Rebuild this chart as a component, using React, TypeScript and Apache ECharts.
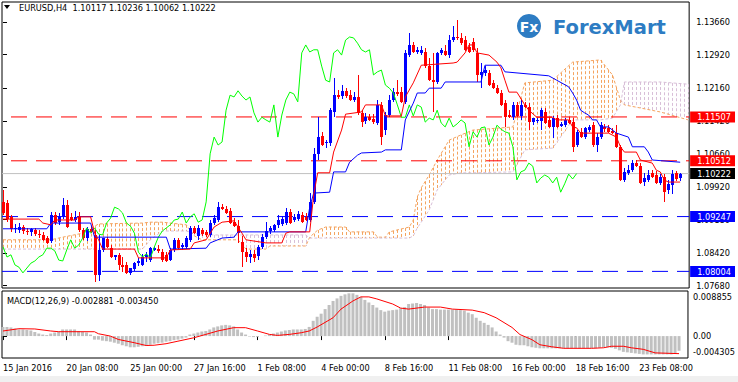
import React, { useEffect, useRef } from "react";
import * as echarts from "echarts";

// ---------- data (EURUSD H4, bar index 0 = 15 Jan 2016 16:00) ----------
const OPEN = [
  1.0958,1.0955,1.0924,1.0896,1.0894,1.0901,1.0892,1.0890,1.0894,1.0885,
  1.0883,1.0876,1.0869,1.0928,1.0912,1.0924,1.0951,1.0924,1.0917,1.0924,
  1.0894,1.0876,1.0896,1.0883,1.0792,1.0849,1.0874,1.0853,1.0833,1.0838,
  1.0815,1.0815,1.0797,1.0806,1.0819,1.0815,1.0833,1.0826,1.0849,1.0851,
  1.0844,1.0838,1.0826,1.0849,1.0872,1.0856,1.0856,1.0872,1.0899,1.0881,
  1.0894,1.0890,1.0883,1.0910,1.0917,1.0946,1.0942,1.0937,1.0912,1.0903,
  1.0867,1.0844,1.0833,1.0840,1.0835,1.0856,1.0878,1.0892,1.0894,1.0906,
  1.0908,1.0910,1.0935,1.0917,1.0919,1.0928,1.0924,1.0917,1.0958,1.1067,
  1.1107,1.1092,1.1092,1.1162,1.1200,1.1198,1.1210,1.1200,1.1189,1.1196,
  1.1160,1.1141,1.1150,1.1146,1.1137,1.1178,1.1121,1.1155,1.1189,1.1207,
  1.1207,1.1185,1.1291,1.1314,1.1298,1.1296,1.1298,1.1266,1.1234,1.1230,
  1.1296,1.1300,1.1291,1.1325,1.1332,1.1330,1.1325,1.1309,1.1321,1.1296,
  1.1246,1.1250,1.1250,1.1228,1.1216,1.1205,1.1182,1.1155,1.1150,1.1178,
  1.1153,1.1178,1.1173,1.1139,1.1141,1.1141,1.1162,1.1144,1.1128,1.1148,
  1.1130,1.1132,1.1144,1.1139,1.1087,1.1117,1.1105,1.1121,1.1132,1.1087,
  1.1105,1.1128,1.1126,1.1119,1.1114,1.1083,1.1008,1.1023,1.1030,1.1046,
  1.1039,1.1003,1.1008,1.1023,1.1019,1.1001,1.1014,1.0985,1.0996,1.1023,
  1.10117,
];
const HIGH = [
  1.0985,1.0962,1.0928,1.0908,1.0910,1.0906,1.0899,1.0899,1.0899,1.0894,
  1.0890,1.0881,1.0935,1.0935,1.0933,1.0967,1.0962,1.0933,1.0937,1.0935,
  1.0899,1.0901,1.0903,1.0894,1.0883,1.0876,1.0878,1.0860,1.0838,1.0842,
  1.0833,1.0822,1.0808,1.0822,1.0831,1.0840,1.0844,1.0856,1.0858,1.0860,
  1.0851,1.0844,1.0853,1.0876,1.0876,1.0865,1.0881,1.0903,1.0903,1.0906,
  1.0899,1.0894,1.0917,1.0928,1.0958,1.0953,1.0949,1.0944,1.0921,1.0917,
  1.0881,1.0853,1.0849,1.0849,1.0860,1.0885,1.0912,1.0903,1.0908,1.0928,
  1.0926,1.0944,1.0942,1.0931,1.0937,1.0935,1.0933,1.0978,1.1080,1.1150,
  1.1117,1.1098,1.1171,1.1239,1.1212,1.1223,1.1216,1.1212,1.1207,1.1246,
  1.1166,1.1160,1.1157,1.1157,1.1189,1.1185,1.1162,1.1200,1.1216,1.1234,
  1.1219,1.1303,1.1341,1.1321,1.1309,1.1312,1.1307,1.1284,1.1296,1.1298,
  1.1307,1.1314,1.1337,1.1357,1.1370,1.1341,1.1334,1.1318,1.1330,1.1307,
  1.1273,1.1266,1.1257,1.1234,1.1223,1.1212,1.1189,1.1166,1.1185,1.1185,
  1.1189,1.1185,1.1182,1.1148,1.1148,1.1171,1.1171,1.1150,1.1153,1.1155,
  1.1139,1.1148,1.1150,1.1148,1.1121,1.1126,1.1128,1.1132,1.1139,1.1114,
  1.1139,1.1135,1.1132,1.1126,1.1132,1.1087,1.1035,1.1042,1.1053,1.1053,
  1.1046,1.1023,1.1030,1.1030,1.1028,1.1021,1.1021,1.1008,1.1030,1.1028,
  1.10236,
];
const LOW = [
  1.0928,1.0912,1.0890,1.0887,1.0887,1.0885,1.0883,1.0881,1.0881,1.0876,
  1.0869,1.0863,1.0865,1.0906,1.0906,1.0919,1.0899,1.0915,1.0912,1.0890,
  1.0872,1.0869,1.0887,1.0776,1.0779,1.0844,1.0853,1.0831,1.0826,1.0804,
  1.0799,1.0794,1.0792,1.0801,1.0813,1.0813,1.0822,1.0822,1.0847,1.0842,
  1.0822,1.0822,1.0824,1.0844,1.0849,1.0849,1.0851,1.0867,1.0885,1.0872,
  1.0881,1.0878,1.0878,1.0906,1.0912,1.0940,1.0931,1.0908,1.0901,1.0865,
  1.0810,1.0822,1.0819,1.0822,1.0826,1.0851,1.0874,1.0885,1.0890,1.0899,
  1.0903,1.0906,1.0908,1.0912,1.0915,1.0910,1.0915,1.0912,1.0953,1.1053,
  1.1085,1.1080,1.1085,1.1150,1.1191,1.1191,1.1194,1.1187,1.1185,1.1155,
  1.1128,1.1135,1.1141,1.1135,1.1132,1.1087,1.1110,1.1150,1.1185,1.1198,
  1.1182,1.1180,1.1287,1.1296,1.1293,1.1291,1.1262,1.1232,1.1162,1.1225,
  1.1291,1.1289,1.1284,1.1321,1.1325,1.1314,1.1300,1.1296,1.1298,1.1230,
  1.1216,1.1244,1.1221,1.1214,1.1203,1.1175,1.1128,1.1148,1.1144,1.1150,
  1.1144,1.1171,1.1121,1.1132,1.1137,1.1121,1.1135,1.1126,1.1103,1.1126,
  1.1128,1.1128,1.1135,1.1071,1.1083,1.1103,1.1101,1.1117,1.1083,1.1071,
  1.1101,1.1117,1.1114,1.1112,1.1080,1.1005,1.1003,1.1019,1.1026,1.1037,
  1.0999,1.0994,1.1003,1.1012,1.0999,1.0996,1.0958,1.0976,1.0976,1.1005,
  1.10062,
];
const CLOSE = [
  1.0933,1.0919,1.0896,1.0899,1.0901,1.0892,1.0890,1.0896,1.0885,1.0883,
  1.0872,1.0865,1.0928,1.0910,1.0924,1.0951,1.0901,1.0917,1.0924,1.0894,
  1.0876,1.0896,1.0890,1.0792,1.0849,1.0876,1.0856,1.0833,1.0838,1.0815,
  1.0810,1.0797,1.0808,1.0819,1.0824,1.0833,1.0838,1.0853,1.0853,1.0847,
  1.0826,1.0824,1.0849,1.0872,1.0853,1.0860,1.0876,1.0899,1.0887,1.0899,
  1.0885,1.0883,1.0910,1.0921,1.0946,1.0942,1.0933,1.0910,1.0903,1.0887,
  1.0844,1.0833,1.0840,1.0831,1.0856,1.0878,1.0892,1.0899,1.0906,1.0917,
  1.0919,1.0935,1.0910,1.0924,1.0931,1.0912,1.0917,1.0958,1.1067,1.1105,
  1.1087,1.1094,1.1166,1.1200,1.1196,1.1210,1.1198,1.1189,1.1196,1.1160,
  1.1139,1.1150,1.1144,1.1139,1.1178,1.1105,1.1155,1.1189,1.1207,1.1203,
  1.1185,1.1296,1.1314,1.1298,1.1303,1.1303,1.1266,1.1234,1.1230,1.1296,
  1.1303,1.1291,1.1325,1.1332,1.1330,1.1318,1.1303,1.1298,1.1303,1.1246,
  1.1253,1.1257,1.1223,1.1216,1.1205,1.1178,1.1150,1.1150,1.1178,1.1153,
  1.1178,1.1173,1.1139,1.1148,1.1144,1.1166,1.1137,1.1128,1.1148,1.1128,
  1.1135,1.1144,1.1137,1.1083,1.1117,1.1105,1.1126,1.1128,1.1087,1.1105,
  1.1132,1.1123,1.1117,1.1114,1.1083,1.1008,1.1026,1.1030,1.1046,1.1039,
  1.1001,1.1012,1.1019,1.1014,1.1001,1.1014,1.0980,1.0999,1.1021,1.1010,
  1.10222,
];

// Ichimoku lines: [bar, price]
const TENKAN = [
  [0,1.0919],[9,1.0919],[10,1.0910],[12,1.0906],[13,1.0917],[18,1.0917],[19,1.0924],[22,1.0924],
  [23,1.0887],[24,1.0872],[25,1.0851],[33,1.0851],[34,1.0831],[41,1.0831],[42,1.0849],[47,1.0851],
  [48,1.0865],[51,1.0872],[53,1.0901],[55,1.0912],[58,1.0915],[59,1.0901],[60,1.0887],[61,1.0872],
  [66,1.0865],[70,1.0865],[71,1.0887],[72,1.0890],[77,1.0890],[78,1.0974],[79,1.1024],[82,1.1024],
  [83,1.1071],[85,1.1121],[86,1.1157],[90,1.1162],[91,1.1178],[95,1.1178],[96,1.1153],[100,1.1153],
  [101,1.1196],[103,1.1228],[105,1.1268],[113,1.1273],[114,1.1275],[116,1.1296],[117,1.1314],[118,1.1314],
  [119,1.1296],[122,1.1291],[124,1.1275],[125,1.1262],[126,1.1234],[127,1.1207],[129,1.1207],[131,1.1178],
  [132,1.1166],[134,1.1150],[138,1.1150],[139,1.1144],[142,1.1144],[143,1.1128],[144,1.1126],[145,1.1114],
  [152,1.1114],[154,1.1105],[155,1.1083],[156,1.1071],[159,1.1071],[160,1.1053],[163,1.1046],[164,1.1030],
  [165,1.1026],[166,1.1008],[167,1.1003],[170,1.1003],
];
const KIJUN = [
  [0,1.0897],[11,1.0897],[12,1.0910],[22,1.0910],[23,1.0878],[41,1.0878],[42,1.0851],[51,1.0853],
  [52,1.0865],[55,1.0876],[58,1.0878],[59,1.0890],[76,1.0890],[77,1.0946],[78,1.0978],[82,1.0980],
  [83,1.1026],[86,1.1026],[87,1.1048],[89,1.1064],[90,1.1069],[95,1.1071],[96,1.1076],[100,1.1076],
  [101,1.1144],[103,1.1182],[104,1.1205],[106,1.1205],[107,1.1216],[110,1.1216],[111,1.1230],[120,1.1230],
  [121,1.1268],[125,1.1268],[126,1.1253],[137,1.1244],[139,1.1234],[142,1.1219],[143,1.1205],[144,1.1189],
  [145,1.1166],[146,1.1160],[147,1.1155],[148,1.1144],[149,1.1144],[150,1.1128],[152,1.1128],[154,1.1114],
  [157,1.1105],[158,1.1083],[161,1.1083],[162,1.1071],[163,1.1053],[170,1.1048],
];
// cloud: [bar, senkou span A, senkou span B]
const CLOUD = [
  [0,1.0872,1.0851],[12,1.0872,1.0851],[15,1.0878,1.0851],[20,1.0887,1.0851],[24,1.0908,1.0851],
  [35,1.0910,1.0851],[37,1.0912,1.0872],[40,1.0912,1.0892],[46,1.0906,1.0892],[48,1.0881,1.0887],
  [50,1.0872,1.0883],[59,1.0872,1.0883],[61,1.0851,1.0883],[66,1.0851,1.0883],[67,1.0858,1.0883],
  [76,1.0858,1.0883],[77,1.0878,1.0876],[79,1.0894,1.0876],[81,1.0901,1.0876],[86,1.0901,1.0876],
  [87,1.0890,1.0876],[93,1.0890,1.0876],[94,1.0878,1.0876],[96,1.0878,1.0876],[97,1.0890,1.0876],
  [102,1.0901,1.0876],[103,1.0917,1.0881],[104,1.0969,1.0899],[105,1.0990,1.0912],[107,1.1019,1.0940],
  [109,1.1053,1.0985],[112,1.1098,1.1019],[115,1.1110,1.1024],[118,1.1121,1.1024],[128,1.1128,1.1026],
  [131,1.1228,1.1076],[138,1.1234,1.1080],[143,1.1275,1.1144],[150,1.1280,1.1144],[153,1.1246,1.1148],
  [155,1.1189,1.1178],[156,1.1178,1.1230],[160,1.1171,1.1230],[165,1.1162,1.1230],[172,1.1144,1.1225],
];
const CHIKOU_SHIFT = 26;

const MACD_MAIN = [
  0.0018,0.0018,0.0017,0.0015,0.0013,0.0013,0.0012,0.0011,0.0008,0.0005,
  0.0003,0.0002,0.0005,0.0007,0.0009,0.0013,0.0013,0.0013,0.0013,0.0010,
  0.0008,0.0007,0.0003,-0.0007,-0.0007,-0.0009,-0.0010,-0.0011,-0.0013,-0.0015,
  -0.0018,-0.0020,-0.0022,-0.0022,-0.0021,-0.0020,-0.0019,-0.0017,-0.0015,-0.0014,
  -0.0013,-0.0011,-0.0010,-0.0008,-0.0007,-0.0005,-0.0003,0.0003,0.0005,0.0007,
  0.0009,0.0010,0.0013,0.0017,0.0019,0.0021,0.0022,0.0021,0.0019,0.0013,
  0.0007,0.0003,-0.0001,-0.0002,-0.0002,0.0000,0.0001,0.0003,0.0005,0.0007,
  0.0009,0.0011,0.0012,0.0013,0.0013,0.0013,0.0014,0.0018,0.0030,0.0038,
  0.0044,0.0053,0.0061,0.0069,0.0074,0.0079,0.0082,0.0084,0.0084,0.0081,
  0.0077,0.0071,0.0066,0.0061,0.0056,0.0051,0.0048,0.0050,0.0051,0.0052,
  0.0055,0.0057,0.0063,0.0064,0.0065,0.0063,0.0061,0.0056,0.0053,0.0053,
  0.0052,0.0052,0.0052,0.0052,0.0052,0.0051,0.0050,0.0046,0.0043,0.0036,
  0.0030,0.0026,0.0022,0.0017,0.0009,0.0003,-0.0003,-0.0010,-0.0013,-0.0017,
  -0.0018,-0.0018,-0.0020,-0.0022,-0.0023,-0.0024,-0.0024,-0.0024,-0.0024,-0.0024,
  -0.0024,-0.0024,-0.0024,-0.0024,-0.0024,-0.0024,-0.0024,-0.0024,-0.0024,-0.0024,
  -0.0023,-0.0022,-0.0022,-0.0023,-0.0025,-0.0028,-0.0031,-0.0032,-0.0033,-0.0034,
  -0.0035,-0.0036,-0.0036,-0.0036,-0.0036,-0.0036,-0.0036,-0.0036,-0.0036,-0.0035,
  -0.002881,
];
const MACD_SIGNAL = [
  [0,0.0010],[4,0.00145],[8,0.0014],[12,0.0010],[14,0.00086],[23,0.00086],[24,0.00046],[27,0],
  [29,-0.00066],[33,-0.0013],[36,-0.00185],[38,-0.0018],[41,-0.0015],[44,-0.0010],[48,-0.00033],
  [51,0.00033],[54,0.0010],[58,0.00165],[61,0.00165],[64,0.0010],[67,0.00033],[69,0.00013],[72,0.00033],
  [75,0.00066],[77,0.0010],[79,0.00178],[83,0.0036],[85,0.0053],[88,0.0069],[90,0.0077],[92,0.0077],
  [94,0.0073],[98,0.0063],[100,0.0055],[102,0.0053],[106,0.0057],[110,0.0057],[113,0.0053],[118,0.0051],
  [121,0.0046],[124,0.0036],[128,0.0017],[130,0.0003],[133,-0.0007],[135,-0.0017],[138,-0.0021],
  [141,-0.0024],[148,-0.0024],[151,-0.0023],[153,-0.0020],[156,-0.0020],[158,-0.0023],[161,-0.0026],
  [164,-0.0033],[170,-0.00345],
];

const PRICE_TICKS = [1.1366, 1.1292, 1.1216, 1.1142, 1.1066, 1.0992, 1.0918, 1.0842, 1.0768];
const RED_LEVELS = [1.11507, 1.10512];
const BLUE_LEVELS = [1.09247, 1.08004];
const BID = 1.10222;
const MACD_TICKS = [0.008855, 0, -0.004305];
const MACD_TICK_LABELS = ["0.008855", "0.00", "-0.004305"];
const TIME_TICK_BARS = [0, 16, 32, 48, 64, 80, 96, 112, 128, 144, 160];
const TIME_TICK_LABELS = [
  "15 Jan 2016", "20 Jan 08:00", "25 Jan 00:00", "27 Jan 16:00", "1 Feb 08:00", "4 Feb 00:00",
  "8 Feb 16:00", "11 Feb 08:00", "16 Feb 00:00", "18 Feb 16:00", "23 Feb 08:00",
];

// ---------- chart ----------
const FONT = "'DejaVu Sans', Verdana, sans-serif";
const FS = 8.2;
const X_MIN = -0.25;
const X_MAX = 172.25;
const Y_MAX = 1.14114;
const Y_MIN = 1.07627;

// a horizontal level drawn as a two-point line series spanning the whole x range
function levelSeries(name: string, value: number, color: string, type: any, z: number) {
  return {
    type: "line", name, xAxisIndex: 0, yAxisIndex: 0, z, silent: true,
    data: [[X_MIN, value], [X_MAX, value]], symbol: "none",
    itemStyle: { color },
    lineStyle: { color, width: 1, type },
  };
}

function buildOption() {
  const n = CLOSE.length;
  const candles = OPEN.map((o, i) => [i, o, CLOSE[i], LOW[i], HIGH[i]]);
  const chikou = CLOSE.slice(CHIKOU_SHIFT).map((c, k) => [k, c]);
  const last = n - 1;
  const signalLast = MACD_SIGNAL[MACD_SIGNAL.length - 1][1];
  const levelValues = [...RED_LEVELS, BID, ...BLUE_LEVELS];
  const near = (a: number, b: number) => Math.abs(a - b) < 1e-7;
  const textStyle = { fontFamily: FONT, fontSize: FS, color: "#000" };
  const boxStyle = (bg: string) => ({ backgroundColor: bg, color: "#fff", padding: [2, 4, 1, 7], fontFamily: FONT, fontSize: FS, lineHeight: 9 });

  return {
    animation: false,
    backgroundColor: "#ffffff",
    grid: [
      { left: 2, top: 2, width: 690, height: 286, show: true, borderColor: "#000", borderWidth: 1, backgroundColor: "transparent" },
      { left: 2, top: 291, width: 690, height: 67, show: true, borderColor: "#000", borderWidth: 1, backgroundColor: "transparent" },
    ],
    xAxis: [
      { type: "value", gridIndex: 0, min: X_MIN, max: X_MAX, show: false },
      {
        type: "value", gridIndex: 1, min: X_MIN, max: X_MAX,
        axisLine: { show: false }, splitLine: { show: false },
        axisTick: { show: true, customValues: TIME_TICK_BARS, length: 4, lineStyle: { color: "#000" } },
        axisLabel: {
          customValues: TIME_TICK_BARS, align: "left", margin: 6, ...textStyle,
          formatter: (v: number) => TIME_TICK_LABELS[TIME_TICK_BARS.indexOf(Math.round(v))] ?? "",
        },
      },
    ],
    yAxis: [
      {
        type: "value", gridIndex: 0, position: "right", min: Y_MIN, max: Y_MAX,
        axisLine: { show: false }, splitLine: { show: false },
        axisTick: { show: true, customValues: PRICE_TICKS, length: 4, lineStyle: { color: "#000" } },
        axisLabel: { customValues: PRICE_TICKS, margin: 7, ...textStyle, formatter: (v: number) => v.toFixed(5) },
      },
      {
        type: "value", gridIndex: 0, position: "right", min: Y_MIN, max: Y_MAX, z: 10,
        axisLine: { show: false }, splitLine: { show: false }, axisTick: { show: false },
        axisLabel: {
          customValues: levelValues, margin: 1, fontFamily: FONT, fontSize: FS,
          formatter: (v: number) => {
            const key = RED_LEVELS.some((r) => near(r, v)) ? "r" : BLUE_LEVELS.some((b) => near(b, v)) ? "b" : "k";
            return `{${key}|${v.toFixed(5)}}`;
          },
          rich: { r: boxStyle("#FF0000"), b: boxStyle("#0000FF"), k: boxStyle("#000000") },
        },
      },
      {
        type: "value", gridIndex: 1, position: "right", min: MACD_TICKS[2], max: MACD_TICKS[0],
        axisLine: { show: false }, splitLine: { show: false },
        axisTick: { show: true, customValues: [0], length: 4, lineStyle: { color: "#000" } },
        axisLabel: {
          customValues: MACD_TICKS, margin: 5, fontFamily: FONT, fontSize: FS, color: "#000",
          formatter: (v: number) => {
            const idx = MACD_TICKS.findIndex((t) => near(t, v));
            const key = idx === 0 ? "top" : idx === 2 ? "bot" : "mid";
            return `{${key}|${MACD_TICK_LABELS[idx]}}`;
          },
          rich: {
            top: { padding: [12, 0, 0, 0], fontFamily: FONT, fontSize: FS, color: "#000" },
            mid: { fontFamily: FONT, fontSize: FS, color: "#000" },
            bot: { padding: [0, 0, 13, 0], fontFamily: FONT, fontSize: FS, color: "#000" },
          },
        },
      },
    ],
    series: [
      {
        type: "custom", name: "cloud", xAxisIndex: 0, yAxisIndex: 0, z: 1, silent: true,
        data: CLOUD, encode: { x: 0, y: [1, 2] },
        renderItem: (params: any, api: any) => {
          const k = params.dataIndex;
          if (k >= CLOUD.length - 1) return null;
          const b0 = api.value(0, k), b1 = api.value(0, k + 1);
          const pa0 = api.coord([b0, api.value(1, k)]);
          const pb0 = api.coord([b0, api.value(2, k)]);
          const pa1 = api.coord([b1, api.value(1, k + 1)]);
          const pb1 = api.coord([b1, api.value(2, k + 1)]);
          const lastSeg = k === CLOUD.length - 2;
          const children: any[] = [];
          for (let b = Math.ceil(b0); b < b1 || (lastSeg && b <= b1); b++) {
            const t = (b - b0) / (b1 - b0);
            const x = Math.round(pa0[0] + (pa1[0] - pa0[0]) * t) + 0.5;
            const ya = pa0[1] + (pa1[1] - pa0[1]) * t;
            const yb = pb0[1] + (pb1[1] - pb0[1]) * t;
            const color = ya <= yb ? "#F4A460" : "#D8BFD8";
            children.push({
              type: "line",
              shape: { x1: x, y1: Math.min(ya, yb), x2: x, y2: Math.max(ya, yb) },
              style: { stroke: color, lineWidth: 1, lineDash: [3, 2] },
            });
          }
          return { type: "group", children };
        },
      },
      {
        type: "line", name: "spanA", xAxisIndex: 0, yAxisIndex: 0, z: 1, silent: true,
        data: CLOUD.map((r) => [r[0], r[1]]), symbol: "none",
        lineStyle: { color: "#F4A460", width: 1, type: [3, 2] },
      },
      {
        type: "line", name: "spanB", xAxisIndex: 0, yAxisIndex: 0, z: 1, silent: true,
        data: CLOUD.map((r) => [r[0], r[2]]), symbol: "none",
        lineStyle: { color: "#D8BFD8", width: 1, type: [3, 2] },
      },
      levelSeries("bid", BID, "#C0C0C0", "solid", 1),
      ...RED_LEVELS.map((v, i) => levelSeries(`red${i}`, v, "#FF0000", [0, 9, 16, 0], 2)),
      ...BLUE_LEVELS.map((v, i) => levelSeries(`blue${i}`, v, "#0000FF", [16, 9], 2)),
      {
        type: "custom", name: "candles", xAxisIndex: 0, yAxisIndex: 0, z: 3, silent: true,
        data: candles, encode: { x: 0, y: [1, 2, 3, 4] },
        renderItem: (params: any, api: any) => {
          const i = api.value(0), o = api.value(1), c = api.value(2), l = api.value(3), h = api.value(4);
          const po = api.coord([i, o]);
          const pc = api.coord([i, c]);
          const pl = api.coord([i, l]);
          const ph = api.coord([i, h]);
          const cx = Math.round(po[0]);
          const color = c >= o ? "#0000FF" : "#FF0000";
          const top = Math.round(Math.min(po[1], pc[1]));
          const bot = Math.round(Math.max(po[1], pc[1]));
          return {
            type: "group",
            children: [
              { type: "line", shape: { x1: cx + 0.5, y1: Math.round(ph[1]), x2: cx + 0.5, y2: Math.round(pl[1]) }, style: { stroke: color, lineWidth: 1 } },
              { type: "rect", shape: { x: cx - 1, y: top, width: 3, height: Math.max(1, bot - top) }, style: { fill: color } },
            ],
          };
        },
      },
      {
        type: "line", name: "chikou", xAxisIndex: 0, yAxisIndex: 0, z: 4, silent: true,
        data: chikou, symbol: "none", lineStyle: { color: "#00FF00", width: 1 },
      },
      {
        type: "line", name: "kijun", xAxisIndex: 0, yAxisIndex: 0, z: 4, silent: true,
        data: KIJUN, symbol: "none", lineStyle: { color: "#0000FF", width: 1 },
      },
      {
        type: "line", name: "tenkan", xAxisIndex: 0, yAxisIndex: 0, z: 5, silent: true,
        data: TENKAN, symbol: "none", lineStyle: { color: "#FF0000", width: 1 },
      },
      {
        type: "bar", name: "macd", xAxisIndex: 1, yAxisIndex: 2, z: 2, silent: true,
        data: MACD_MAIN.map((v, i) => [i, v]), barWidth: 3,
        itemStyle: { color: "#C0C0C0" },
      },
      {
        type: "line", name: "signal", xAxisIndex: 1, yAxisIndex: 2, z: 3, silent: true,
        data: MACD_SIGNAL, symbol: "none", lineStyle: { color: "#FF0000", width: 1 },
      },
    ],
    graphic: [
      { type: "rect", left: 0, top: 376, shape: { width: 738, height: 6 }, style: { fill: "#F0F0F0" }, silent: true },
      { type: "polygon", shape: { points: [[4, 5], [10, 5], [7, 9]] }, style: { fill: "#000" }, silent: true },
      {
        type: "text", x: 19, y: 7.5, silent: true,
        style: {
          text: `EURUSD,H4  ${OPEN[last].toFixed(5)} ${HIGH[last].toFixed(5)} ${LOW[last].toFixed(5)} ${CLOSE[last].toFixed(5)}`,
          font: `${FS}px ${FONT}`, fill: "#000", verticalAlign: "middle",
        },
      },
      {
        type: "text", x: 7, y: 300.5, silent: true,
        style: {
          text: `MACD(12,26,9) ${MACD_MAIN[last].toFixed(6)} ${signalLast.toFixed(6)}`,
          font: `${FS}px ${FONT}`, fill: "#000", verticalAlign: "middle",
        },
      },
      { type: "circle", shape: { cx: 529, cy: 26, r: 12 }, style: { fill: "#2D7CC3" }, silent: true },
      {
        type: "text", x: 529, y: 26.5, silent: true,
        style: { text: "Fx", font: `bold 14px ${FONT}`, fill: "#fff", align: "center", verticalAlign: "middle" },
      },
      {
        type: "text", x: 553, y: 27, silent: true,
        style: { text: "ForexMart", font: `bold 19.5px ${FONT}`, fill: "#2D7CC3", verticalAlign: "middle" },
      },
    ],
  };
}

export default function App() {
  const ref = useRef<HTMLDivElement>(null);
  useEffect(() => {
    document.body.style.margin = "0";
    const chart = echarts.init(ref.current as HTMLDivElement, null, { renderer: "svg" });
    chart.setOption(buildOption() as any);
    return () => chart.dispose();
  }, []);
  return <div ref={ref} style={{ width: 738, height: 382, background: "#fff" }} />;
}
